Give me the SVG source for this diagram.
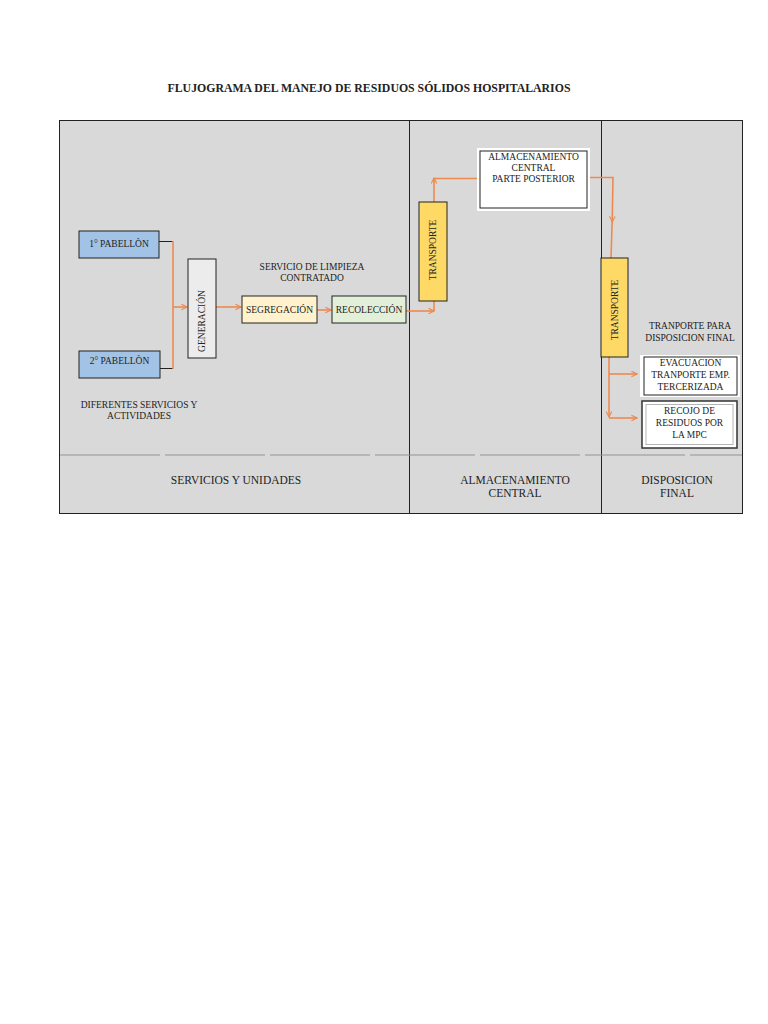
<svg xmlns="http://www.w3.org/2000/svg" width="768" height="1024" viewBox="0 0 768 1024">
<defs>
<marker id="ah" viewBox="0 0 10 10" refX="9" refY="5" markerWidth="7" markerHeight="7" markerUnits="userSpaceOnUse" orient="auto">
<path d="M1,1 L9,5 L1,9" fill="none" stroke="#ee8a4f" stroke-width="1.6"/>
</marker>
<style>
text{font-family:"Liberation Serif","Times New Roman",serif;fill:#222;}
.s{font-size:9.5px;text-anchor:middle;}
.l{font-size:11.5px;text-anchor:middle;}
.box{stroke:#222;stroke-width:1;}
.c{fill:none;stroke:#ee8a4f;stroke-width:1.6;}
.k{fill:none;stroke:#222;stroke-width:1;}
</style>
</defs>
<rect width="768" height="1024" fill="#ffffff"/>
<text x="369" y="92" font-size="11.8px" font-weight="bold" text-anchor="middle">FLUJOGRAMA DEL MANEJO DE RESIDUOS SÓLIDOS HOSPITALARIOS</text>
<g id="frame">
<rect x="59.5" y="120.5" width="683" height="393" fill="#d9d9d9" stroke="#222" stroke-width="1"/>
<line x1="409.5" y1="120" x2="409.5" y2="513" stroke="#222"/>
<line x1="601.5" y1="120" x2="601.5" y2="513" stroke="#222"/>
<line x1="60" y1="455" x2="742" y2="455" stroke="#939393" stroke-width="1.2" stroke-dasharray="100 5"/>
<text class="l" x="236" y="484">SERVICIOS Y UNIDADES</text>
<text class="l" x="515" y="484">ALMACENAMIENTO</text>
<text class="l" x="515" y="497">CENTRAL</text>
<text class="l" x="677" y="484">DISPOSICION</text>
<text class="l" x="677" y="497">FINAL</text>
</g>
<g id="connectors">
<polyline class="k" points="159,241.5 173,241.5"/>
<polyline class="k" points="160,368.5 173,368.5"/>
<line class="c" x1="173" y1="241" x2="173" y2="369"/>
<line class="c" x1="173" y1="307" x2="187" y2="307" marker-end="url(#ah)"/>
<line class="c" x1="216" y1="307" x2="241" y2="307" marker-end="url(#ah)"/>
<line class="c" x1="317" y1="310" x2="331" y2="310" marker-end="url(#ah)"/>
<line class="c" x1="406" y1="311" x2="434" y2="311" marker-end="url(#ah)"/>
<line class="c" x1="434" y1="301" x2="434" y2="311"/>
<line class="c" x1="434" y1="202" x2="434" y2="178" marker-end="url(#ah)"/>
<line class="c" x1="434" y1="178.5" x2="480" y2="178.5"/>
<polyline class="c" points="587,177.5 613,177.5 612.2,222" marker-end="url(#ah)"/>
<line class="c" x1="612.2" y1="220" x2="611" y2="258"/>
<line class="c" x1="609" y1="357" x2="609" y2="417" marker-end="url(#ah)"/>
<line class="c" x1="609" y1="374" x2="637" y2="374" marker-end="url(#ah)"/>
<line class="c" x1="609" y1="418" x2="637" y2="418" marker-end="url(#ah)"/>
</g>
<g id="pabellon1">
<rect class="box" x="79" y="231" width="80" height="27" fill="#a3c3e6"/>
<text class="s" x="119" y="247">1° PABELLÒN</text>
</g>
<g id="pabellon2">
<rect class="box" x="79" y="351" width="81" height="27" fill="#a3c3e6"/>
<text class="s" x="119.5" y="364">2° PABELLÒN</text>
</g>
<g id="diferentes">
<text class="s" x="139" y="408">DIFERENTES SERVICIOS Y</text>
<text class="s" x="139" y="419">ACTIVIDADES</text>
</g>
<g id="generacion">
<rect class="box" x="188" y="259" width="28" height="99" fill="#ececec"/>
<text class="s" x="202" y="321" transform="rotate(-90 202 321)" dy="3.3">GENERACIÓN</text>
</g>
<g id="servicio-limpieza">
<text class="s" x="312" y="270">SERVICIO DE LIMPIEZA</text>
<text class="s" x="312" y="281">CONTRATADO</text>
</g>
<g id="segregacion">
<rect class="box" x="242" y="296" width="75" height="27" fill="#fff2cc"/>
<text class="s" x="279.5" y="313">SEGREGACIÓN</text>
</g>
<g id="recoleccion">
<rect class="box" x="332" y="296" width="74" height="27" fill="#e2f0d9"/>
<text class="s" x="369" y="313">RECOLECCIÓN</text>
</g>
<g id="transporte1">
<rect class="box" x="419" y="202" width="28" height="99" fill="#ffd966"/>
<text class="s" x="433" y="250" transform="rotate(-90 433 250)" dy="3.3">TRANSPORTE</text>
</g>
<g id="almacenamiento-central">
<rect x="477" y="148" width="113" height="63" fill="#ffffff"/>
<rect class="box" x="480" y="151" width="107" height="57" fill="#ffffff"/>
<text class="s" x="533.5" y="160">ALMACENAMIENTO</text>
<text class="s" x="533.5" y="171">CENTRAL</text>
<text class="s" x="533.5" y="182">PARTE POSTERIOR</text>
</g>
<g id="transporte2">
<rect class="box" x="601" y="258" width="27" height="99" fill="#ffd966"/>
<text class="s" x="614.5" y="310" transform="rotate(-90 614.5 310)" dy="3.3">TRANSPORTE</text>
</g>
<g id="tranporte-para">
<text class="s" x="690" y="329">TRANPORTE PARA</text>
<text class="s" x="690" y="341">DISPOSICION FINAL</text>
</g>
<g id="evacuacion">
<rect x="640" y="355" width="100" height="42" fill="#ffffff"/>
<rect class="box" x="644" y="357" width="93" height="38" fill="#ffffff"/>
<text class="s" x="690.5" y="366">EVACUACION</text>
<text class="s" x="690.5" y="378">TRANPORTE EMP.</text>
<text class="s" x="690.5" y="390">TERCERIZADA</text>
</g>
<g id="recojo">
<rect x="642" y="401" width="95" height="47" fill="#ffffff" stroke="#333" stroke-width="1.5"/>
<rect x="646" y="404.5" width="87" height="40" fill="#ffffff" stroke="#b5b5b5" stroke-width="1"/>
<text class="s" x="689.5" y="414">RECOJO DE</text>
<text class="s" x="689.5" y="426">RESIDUOS POR</text>
<text class="s" x="689.5" y="438">LA MPC</text>
</g>
</svg>
